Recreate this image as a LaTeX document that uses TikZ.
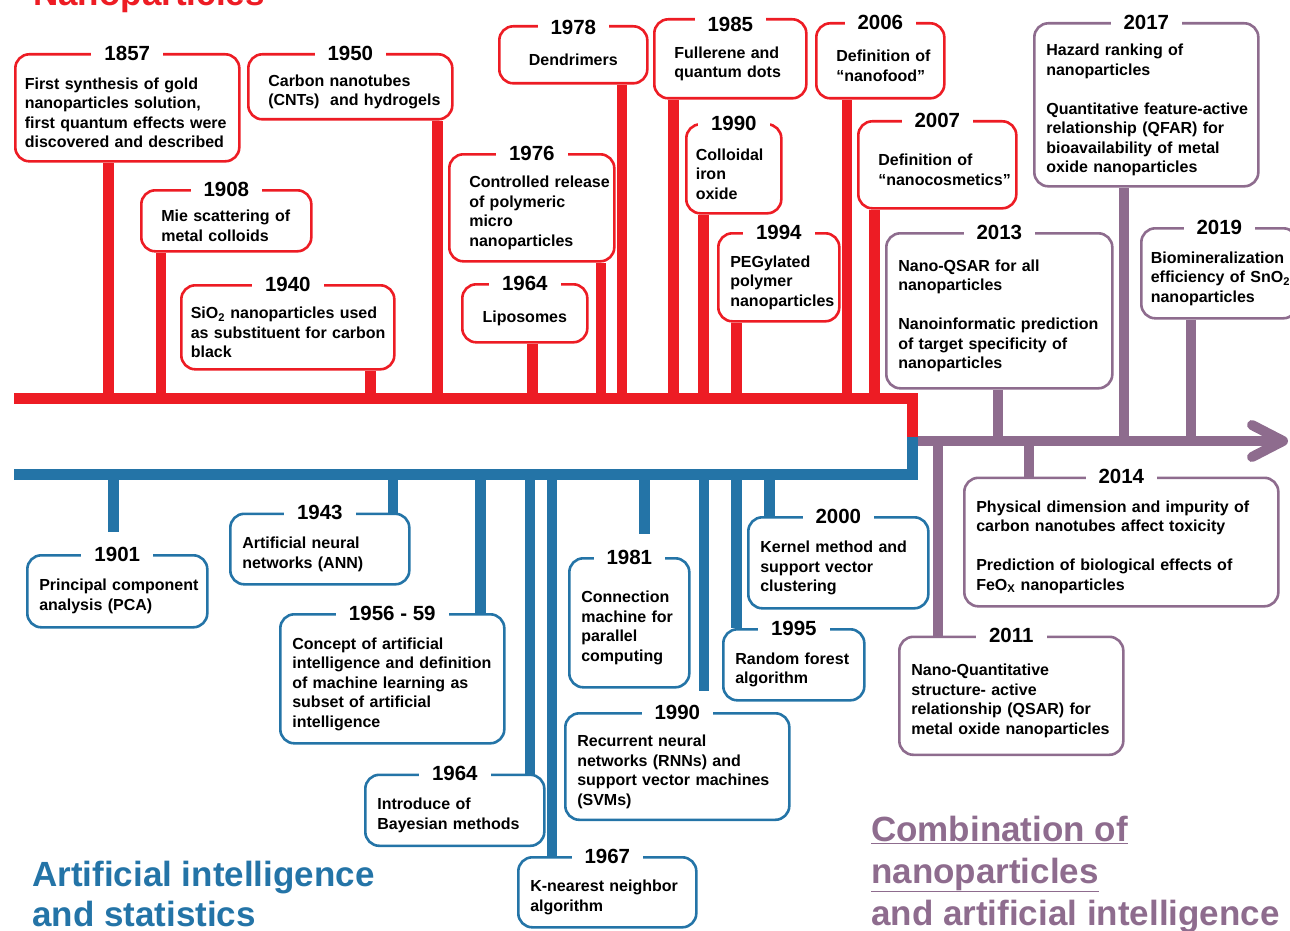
\documentclass[tikz,border=0pt]{standalone}
\usepackage{fontspec}
\setmainfont{Liberation Sans}
\definecolor{npred}{RGB}{237,28,36}
\definecolor{aiblue}{RGB}{36,116,167}
\definecolor{combo}{RGB}{142,108,142}

\begin{document}
\begin{tikzpicture}[x=1pt,y=-1pt]
\tikzstyle{box}=[rectangle, rounded corners=14pt, line width=2.6pt, fill=white, anchor=north west, align=left, inner xsep=0pt, font=\fontsize{16}{19.5}\selectfont\bfseries, execute at begin node={\leftskip=12pt\relax\rule{0pt}{22pt}}]
\tikzstyle{widebox}=[execute at begin node={\leftskip=20pt\relax}]
\tikzstyle{narrowbox}=[execute at begin node={\leftskip=9.5pt\relax}]
\tikzstyle{centerbox}=[execute at begin node={\leftskip=0pt plus 1fil\rightskip=0pt plus 1fil\parfillskip=0pt\relax}]
\tikzstyle{redbox}=[box, draw=npred]
\tikzstyle{bluebox}=[box, draw=aiblue]
\tikzstyle{purplebox}=[box, draw=combo]
\tikzstyle{year}=[fill=white, inner xsep=13pt, inner ysep=2pt, font=\fontsize{20.5}{24}\selectfont\bfseries]
\tikzstyle{redstem}=[draw=npred, line width=10.5pt]
\tikzstyle{bluestem}=[draw=aiblue, line width=10.5pt]
\tikzstyle{purplestem}=[draw=combo, line width=10pt]
\tikzstyle{bigtitle}=[anchor=base west, inner sep=0pt, font=\fontsize{35}{40}\selectfont\bfseries]
\useasboundingbox (0,0) rectangle (1290,931);

  % time lines
  \coordinate (redaxis) at (0,398.5);
  \coordinate (blueaxis) at (0,474.5);
  \coordinate (comboaxis) at (0,441);
  \coordinate (tip) at (1283,441);
  \draw[npred, line width=11pt] (14,0 |- redaxis) -- (912,0 |- redaxis) -- (912,437);
  \draw[aiblue, line width=11pt] (14,0 |- blueaxis) -- (912,0 |- blueaxis) -- (912,437);
  \draw[combo, line width=10pt] (917.5,0 |- comboaxis) -- (1277,0 |- comboaxis);
  \draw[combo, line width=10pt, line cap=round, line join=round] (1252,425) -- (tip) -- (1252,457);

  % nanoparticles
  \node[redbox, narrowbox, text width=224pt, minimum height=107pt] (b1857) at (14,53) {First synthesis of gold\\nanoparticles solution,\\first quantum effects were\\discovered and described};
  \node[redbox, widebox, text width=204pt, minimum height=65pt] (b1950) at (247,53) {Carbon nanotubes\\(CNTs)\ \ and hydrogels};
  \node[redbox, widebox, text width=170pt, minimum height=61pt] (b1908) at (140,189) {Mie scattering of\\metal colloids};
  \node[redbox, narrowbox, text width=213pt, minimum height=84pt] (b1940) at (180,284) {SiO\textsubscript{2} nanoparticles used\\as substituent for carbon\\black};
  \node[redbox, widebox, text width=165pt, minimum height=107pt] (b1976) at (448,153) {Controlled release\\of polymeric\\micro\\nanoparticles};
  \node[redbox, centerbox, text width=125pt, minimum height=58pt] (b1964a) at (461,283) {Liposomes};
  \node[redbox, centerbox, text width=148pt, minimum height=57pt] (b1978) at (498,25) {Dendrimers};
  \node[redbox, widebox, text width=152pt, minimum height=79pt] (b1985) at (653,18) {Fullerene and\\quantum dots};
  \node[redbox, narrowbox, text width=95pt, minimum height=89pt] (b1990a) at (685,123) {Colloidal\\iron\\oxide};
  \node[redbox, text width=121pt, minimum height=88pt] (b1994) at (717,232) {PEGylated\\polymer\\nanoparticles};
  \node[redbox, widebox, text width=128pt, minimum height=75pt] (b2006) at (815,22) {Definition of\\“nanofood”};
  \node[redbox, widebox, text width=158pt, minimum height=87pt] (b2007) at (857,120) {Definition of\\“nanocosmetics”};

  % combination
  \node[purplebox, text width=224pt, minimum height=163pt] (b2017) at (1033,22) {Hazard ranking of\\nanoparticles\\[19.5pt]Quantitative feature-active\\relationship (QFAR) for\\bioavailability of metal\\oxide nanoparticles};
  \node[purplebox, text width=226pt, minimum height=155pt] (b2013) at (885,232) {Nano-QSAR for all\\nanoparticles\\[19.5pt]Nanoinformatic prediction\\of target specificity of\\nanoparticles};
  \node[purplebox, narrowbox, text width=156pt, minimum height=90pt] (b2019) at (1140,227) {Biomineralization\\efficiency of SnO\textsubscript{2}\\nanoparticles};
  \node[purplebox, text width=314pt, minimum height=128.5pt] (b2014) at (963,476.5) {Physical dimension and impurity of\\carbon nanotubes affect toxicity\\[19.5pt]Prediction of biological effects of\\FeO\textsubscript{X} nanoparticles};
  \node[purplebox, text width=224pt, minimum height=118pt] (b2011) at (898,635.5) {Nano-Quantitative\\structure- active\\relationship (QSAR) for\\metal oxide nanoparticles};

  % artificial intelligence
  \node[bluebox, text width=180pt, minimum height=72pt] (b1901) at (26,554) {Principal component\\analysis (PCA)};
  \node[bluebox, text width=179pt, minimum height=70.5pt] (b1943) at (229,512.5) {Artificial neural\\networks (ANN)};
  \node[bluebox, text width=224pt, minimum height=129pt] (b1956) at (279,613) {Concept of artificial\\intelligence and definition\\of machine learning as\\subset of artificial\\intelligence};
  \node[bluebox, text width=179pt, minimum height=71pt] (b1964b) at (364,773.5) {Introduce of\\Bayesian methods};
  \node[bluebox, text width=178pt, minimum height=70pt] (b1967) at (517,856) {K-nearest neighbor\\algorithm};
  \node[bluebox, text width=120pt, minimum height=129pt] (b1981) at (568,557) {Connection\\machine for\\parallel\\computing};
  \node[bluebox, text width=224pt, minimum height=106.5pt] (b1990b) at (564,712) {Recurrent neural\\networks (RNNs) and\\support vector machines\\(SVMs)};
  \node[bluebox, text width=141pt, minimum height=71pt] (b1995) at (722,628) {Random forest\\algorithm};
  \node[bluebox, text width=180pt, minimum height=91pt] (b2000) at (747,516) {Kernel method and\\support vector\\clustering};

  % years on the boxes
  \node[year] (y1857) at (b1857.north) {1857};
  \node[year] (y1950) at (b1950.north) {1950};
  \node[year] (y1908) at (b1908.north) {1908};
  \node[year] (y1940) at (b1940.north) {1940};
  \node[year] (y1976) at (b1976.north) {1976};
  \node[year] (y1964a) at (b1964a.north) {1964};
  \node[year, yshift=-2pt] (y1978) at (b1978.north) {1978};
  \node[year, yshift=-6pt] (y1985) at (b1985.north) {1985};
  \node[year] (y1990a) at (b1990a.north) {1990};
  \node[year] (y1994) at (b1994.north) {1994};
  \node[year] (y2006) at (b2006.north) {2006};
  \node[year] (y2007) at (b2007.north) {2007};
  \node[year] (y2017) at (b2017.north) {2017};
  \node[year] (y2013) at (b2013.north) {2013};
  \node[year] (y2019) at (b2019.north) {2019};
  \node[year] (y2014) at (b2014.north) {2014};
  \node[year] (y2011) at (b2011.north) {2011};
  \node[year] (y1901) at (b1901.north) {1901};
  \node[year] (y1943) at (b1943.north) {1943};
  \node[year] (y1956) at (b1956.north) {1956 - 59};
  \node[year] (y1964b) at (b1964b.north) {1964};
  \node[year] (y1967) at (b1967.north) {1967};
  \node[year] (y1981) at (b1981.north) {1981};
  \node[year] (y1990b) at (b1990b.north) {1990};
  \node[year] (y1995) at (b1995.north) {1995};
  \node[year] (y2000) at (b2000.north) {2000};

  % stems
  \draw[redstem] (108.5,0 |- redaxis) -- (108.5,0 |- b1857.south);
  \draw[redstem] (437.5,0 |- redaxis) -- (437.5,0 |- b1950.south);
  \draw[redstem] (161,0 |- redaxis) -- (161,0 |- b1908.south);
  \draw[redstem] (370.5,0 |- redaxis) -- (370.5,0 |- b1940.south);
  \draw[redstem] (601,0 |- redaxis) -- (601,0 |- b1976.south);
  \draw[redstem] (532.5,0 |- redaxis) -- (532.5,0 |- b1964a.south);
  \draw[redstem] (622,0 |- redaxis) -- (622,0 |- b1978.south);
  \draw[redstem] (673.5,0 |- redaxis) -- (673.5,0 |- b1985.south);
  \draw[redstem] (703.5,0 |- redaxis) -- (703.5,0 |- b1990a.south);
  \draw[redstem] (736.5,0 |- redaxis) -- (736.5,0 |- b1994.south);
  \draw[redstem] (847,0 |- redaxis) -- (847,0 |- b2006.south);
  \draw[redstem] (874.5,0 |- redaxis) -- (874.5,0 |- b2007.south);
  \draw[purplestem] (1123.5,0 |- comboaxis) -- (1123.5,0 |- b2017.south);
  \draw[purplestem] (997.5,0 |- comboaxis) -- (997.5,0 |- b2013.south);
  \draw[purplestem] (1190.5,0 |- comboaxis) -- (1190.5,0 |- b2019.south);
  \draw[purplestem] (1029,0 |- comboaxis) -- (1029,0 |- b2014.north);
  \draw[purplestem] (938,0 |- comboaxis) -- (938,0 |- b2011.north);
  \draw[bluestem] (113.5,0 |- blueaxis) -- ++(0,57.5);
  \draw[bluestem] (393,0 |- blueaxis) -- (393,0 |- b1943.north);
  \draw[bluestem] (480.5,0 |- blueaxis) -- (480.5,0 |- b1956.north);
  \draw[bluestem] (530,0 |- blueaxis) -- (530,0 |- b1964b.north);
  \draw[bluestem] (552,0 |- blueaxis) -- (552,0 |- b1967.north);
  \draw[bluestem] (644.5,0 |- blueaxis) -- ++(0,59.5);
  \draw[bluestem] (704,0 |- blueaxis) -- ++(0,216.5);
  \draw[bluestem] (736.5,0 |- blueaxis) -- (736.5,0 |- b1995.north);
  \draw[bluestem] (769.5,0 |- blueaxis) -- (769.5,0 |- b2000.north);

  % headings
  \node[bigtitle, npred] (tnano) at (33,6) {Nanoparticles};
  \node[bigtitle, aiblue] (tai1) at (32,886) {Artificial intelligence};
  \node[bigtitle, aiblue] (tai2) at (32,926) {and statistics};
  \node[bigtitle, combo] (tco1) at (871,841) {\underline{Combination of}};
  \node[bigtitle, combo] (tco2) at (871,883) {\underline{nanoparticles}};
  \node[bigtitle, combo] (tco3) at (871,925) {\underline{and artificial intelligence}};
\end{tikzpicture}
\end{document}
